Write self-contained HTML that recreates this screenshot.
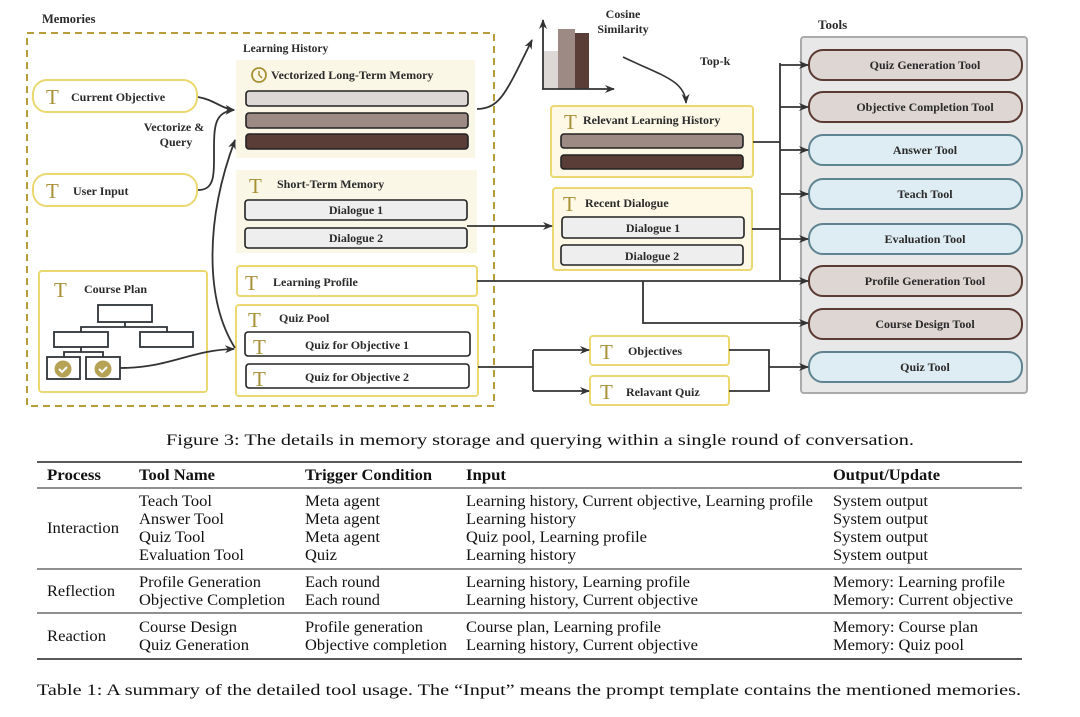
<!DOCTYPE html>
<html><head><meta charset="utf-8"><style>
html,body{margin:0;padding:0;background:#fff;}
svg{display:block;}
.b{font-family:"Liberation Serif",serif;font-weight:bold;font-size:12px;fill:#2a2a2a;}
.t{font-family:"Liberation Serif",serif;font-size:16px;fill:#111;}
.h{font-family:"Liberation Serif",serif;font-weight:bold;font-size:16px;fill:#111;}
.T{font-family:"Liberation Serif",serif;font-size:21px;fill:#a89035;}
</style></head><body>
<svg width="1080" height="717" viewBox="0 0 1080 717" xmlns="http://www.w3.org/2000/svg">
<defs>
<marker id="a" markerWidth="10" markerHeight="8" refX="9" refY="4" orient="auto" markerUnits="userSpaceOnUse"><path d="M0,0 L10,4 L0,8 L3,4z" fill="#333"/></marker>
</defs>
<!-- Memories -->
<text class="b" x="42" y="23" style="font-size:12.5px">Memories</text>
<rect x="27" y="33" width="467" height="373" fill="none" stroke="#b59d3a" stroke-width="2" stroke-dasharray="7,5"/>
<text class="b" x="243" y="52" style="font-size:11.5px">Learning History</text>
<rect x="236" y="60" width="239" height="98" fill="#fbf7e6"/>
<circle cx="259" cy="75" r="7" fill="none" stroke="#a89035" stroke-width="1.8"/>
<path d="M259,71 V75 L262,78" stroke="#a89035" stroke-width="1.5" fill="none"/>
<text class="b" x="271" y="79">Vectorized Long-Term Memory</text>
<rect x="246" y="91" width="222" height="15" rx="3" fill="#ddd8d5" stroke="#222" stroke-width="1.6"/>
<rect x="246" y="113" width="222" height="15" rx="3" fill="#9e8a85" stroke="#222" stroke-width="1.6"/>
<rect x="246" y="134" width="222" height="15" rx="3" fill="#5a3d36" stroke="#222" stroke-width="1.6"/>
<rect x="236" y="170" width="241" height="83" fill="#fbf7e6"/>
<text class="T" x="249" y="193">T</text>
<text class="b" x="277" y="188">Short-Term Memory</text>
<rect x="245" y="200" width="222" height="20" rx="3" fill="#eeeeee" stroke="#222" stroke-width="1.6"/>
<text class="b" x="356" y="214" text-anchor="middle">Dialogue 1</text>
<rect x="245" y="228" width="222" height="20" rx="3" fill="#eeeeee" stroke="#222" stroke-width="1.6"/>
<text class="b" x="356" y="242" text-anchor="middle">Dialogue 2</text>
<rect x="237" y="266" width="240" height="30" rx="3" fill="#fff" stroke="#ecd870" stroke-width="2"/>
<text class="T" x="245" y="290">T</text>
<text class="b" x="273" y="286">Learning Profile</text>
<rect x="236" y="305" width="242" height="91" rx="3" fill="#fff" stroke="#ecd870" stroke-width="2"/>
<text class="T" x="248" y="327">T</text>
<text class="b" x="279" y="322">Quiz Pool</text>
<rect x="245" y="332" width="225" height="24" rx="3" fill="#fff" stroke="#222" stroke-width="1.6"/>
<text class="T" x="253" y="354">T</text>
<text class="b" x="357" y="349" text-anchor="middle">Quiz for Objective 1</text>
<rect x="246" y="364" width="223" height="24" rx="3" fill="#fff" stroke="#222" stroke-width="1.6"/>
<text class="T" x="253" y="386">T</text>
<text class="b" x="357" y="381" text-anchor="middle">Quiz for Objective 2</text>
<rect x="33" y="80" width="164" height="32" rx="14" fill="#fff" stroke="#ecd870" stroke-width="2"/>
<text class="T" x="46" y="104">T</text>
<text class="b" x="71" y="101">Current Objective</text>
<rect x="33" y="174" width="164" height="32" rx="14" fill="#fff" stroke="#ecd870" stroke-width="2"/>
<text class="T" x="46" y="198">T</text>
<text class="b" x="73" y="195">User Input</text>
<text class="b" x="174" y="131" text-anchor="middle">Vectorize &amp;</text>
<text class="b" x="176" y="146" text-anchor="middle">Query</text>
<rect x="39" y="271" width="168" height="121" rx="3" fill="#fff" stroke="#ecd870" stroke-width="2"/>
<text class="T" x="54" y="297">T</text>
<text class="b" x="84" y="293">Course Plan</text>
<g fill="#fff" stroke="#2e3338" stroke-width="1.8">
<rect x="98" y="305" width="54" height="17"/><rect x="54" y="332" width="54" height="15"/><rect x="140" y="332" width="53" height="15"/>
<rect x="47" y="357" width="33" height="22"/><rect x="86" y="357" width="34" height="22"/>
<path d="M125,322 V327 M81,332 V327 H167 V332 M81,347 V352 M64,357 V352 H103 V357" fill="none"/>
</g>
<circle cx="63" cy="369" r="8.5" fill="#b5a254"/><circle cx="103" cy="369" r="8.5" fill="#b5a254"/>
<path d="M59,369 l3,3 l5,-5 M99,369 l3,3 l5,-5" stroke="#fff" stroke-width="2" fill="none"/>
<!-- arrows in memories -->
<g stroke="#333" stroke-width="1.8" fill="none">
<path d="M198,97 C215,100 220,108 234,110" marker-end="url(#a)"/>
<path d="M198,190 C215,190 214,175 214,150 C214,125 215,112 234,110" marker-end="url(#a)"/>
<path d="M120,368 C170,368 190,350 234,349" marker-end="url(#a)"/>
<path d="M235,348 C205,300 205,220 235,140" marker-end="url(#a)"/>
<path d="M477,109 C500,108 505,95 532,40" marker-end="url(#a)"/>
</g>
<!-- chart -->
<rect x="544" y="51" width="14" height="38" fill="#ddd8d5"/>
<rect x="558" y="29" width="17" height="60" fill="#9e8a85"/>
<rect x="575" y="33" width="14" height="56" fill="#5a3d36"/>
<path d="M543,89 V20" stroke="#333" stroke-width="1.8" marker-end="url(#a)"/>
<path d="M542,89 H614" stroke="#333" stroke-width="1.8" marker-end="url(#a)"/>
<text class="b" x="623" y="18" text-anchor="middle">Cosine</text>
<text class="b" x="623" y="33" text-anchor="middle">Similarity</text>
<text class="b" x="700" y="65">Top-k</text>
<path d="M623,57 C660,75 685,80 686,103" stroke="#333" stroke-width="1.6" fill="none" marker-end="url(#a)"/>
<!-- relevant boxes -->
<rect x="551" y="106" width="202" height="71" rx="3" fill="#fdf9e6" stroke="#ecd870" stroke-width="2"/>
<text class="T" x="564" y="129">T</text>
<text class="b" x="583" y="124">Relevant Learning History</text>
<rect x="561" y="134" width="182" height="14" rx="3" fill="#9e8a85" stroke="#222" stroke-width="1.6"/>
<rect x="561" y="155" width="182" height="14" rx="3" fill="#5a3d36" stroke="#222" stroke-width="1.6"/>
<rect x="553" y="188" width="199" height="82" rx="3" fill="#fdf9e6" stroke="#ecd870" stroke-width="2"/>
<text class="T" x="563" y="211">T</text>
<text class="b" x="585" y="207">Recent Dialogue</text>
<rect x="562" y="217" width="182" height="21" rx="3" fill="#eeeeee" stroke="#222" stroke-width="1.6"/>
<text class="b" x="653" y="232" text-anchor="middle">Dialogue 1</text>
<rect x="561" y="245" width="182" height="20" rx="3" fill="#eeeeee" stroke="#222" stroke-width="1.6"/>
<text class="b" x="652" y="260" text-anchor="middle">Dialogue 2</text>
<rect x="590" y="336" width="139" height="29" rx="3" fill="#fff" stroke="#ecd870" stroke-width="2"/>
<text class="T" x="600" y="359">T</text>
<text class="b" x="628" y="355">Objectives</text>
<rect x="590" y="376" width="139" height="29" rx="3" fill="#fff" stroke="#ecd870" stroke-width="2"/>
<text class="T" x="600" y="399">T</text>
<text class="b" x="626" y="396">Relavant Quiz</text>
<!-- tools -->
<text class="b" x="818" y="29" style="font-size:13px">Tools</text>
<rect x="801" y="37" width="226" height="356" rx="3" fill="#e8e8e8" stroke="#aaa" stroke-width="2"/>
<g stroke-width="2">
<rect x="809" y="50" width="213" height="30" rx="14" fill="#ddd6d2" stroke="#5a3a33"/>
<rect x="809" y="92" width="213" height="30" rx="14" fill="#ddd6d2" stroke="#5a3a33"/>
<rect x="809" y="135" width="213" height="30" rx="14" fill="#deedf3" stroke="#5f8390"/>
<rect x="809" y="179" width="213" height="30" rx="14" fill="#deedf3" stroke="#5f8390"/>
<rect x="809" y="224" width="213" height="30" rx="14" fill="#deedf3" stroke="#5f8390"/>
<rect x="809" y="266" width="213" height="30" rx="14" fill="#ddd6d2" stroke="#5a3a33"/>
<rect x="809" y="309" width="213" height="30" rx="14" fill="#ddd6d2" stroke="#5a3a33"/>
<rect x="809" y="352" width="213" height="30" rx="14" fill="#deedf3" stroke="#5f8390"/>
</g>
<g class="b" text-anchor="middle">
<text x="925" y="69">Quiz Generation Tool</text>
<text x="925" y="111">Objective Completion Tool</text>
<text x="925" y="154">Answer Tool</text>
<text x="925" y="198">Teach Tool</text>
<text x="925" y="243">Evaluation Tool</text>
<text x="925" y="285">Profile Generation Tool</text>
<text x="925" y="328">Course Design Tool</text>
<text x="925" y="371">Quiz Tool</text>
</g>
<!-- connectors -->
<g stroke="#333" stroke-width="1.8" fill="none">
<path d="M753,142 H780 M752,229 H780 M780,63 V280"/>
<path d="M780,65 H808" marker-end="url(#a)"/>
<path d="M780,107 H808" marker-end="url(#a)"/>
<path d="M780,150 H808" marker-end="url(#a)"/>
<path d="M780,194 H808" marker-end="url(#a)"/>
<path d="M780,239 H808" marker-end="url(#a)"/>
<path d="M477,281 H808" marker-end="url(#a)"/>
<path d="M643,281 V323 H808" marker-end="url(#a)"/>
<path d="M467,226 H552" marker-end="url(#a)"/>
<path d="M478,367 H533 M533,350 V391"/>
<path d="M533,350 H589" marker-end="url(#a)"/>
<path d="M533,391 H589" marker-end="url(#a)"/>
<path d="M729,350 H769 V391 H729 M769,367 H808" marker-end="url(#a)"/>
</g>
<!-- figure caption -->
<text class="t" x="540" y="445" text-anchor="middle" textLength="748" lengthAdjust="spacingAndGlyphs">Figure 3: The details in memory storage and querying within a single round of conversation.</text>
<!-- table -->
<g stroke="#222">
<line x1="37" y1="462" x2="1022" y2="462" stroke-width="1.5"/>
<line x1="37" y1="488" x2="1022" y2="488" stroke-width="1"/>
<line x1="37" y1="569" x2="1022" y2="569" stroke-width="1"/>
<line x1="37" y1="613" x2="1022" y2="613" stroke-width="1"/>
<line x1="37" y1="659" x2="1022" y2="659" stroke-width="1.5"/>
</g>
<g class="h">
<text x="47" y="480" textLength="54" lengthAdjust="spacingAndGlyphs">Process</text>
<text x="139" y="480" textLength="76" lengthAdjust="spacingAndGlyphs">Tool Name</text>
<text x="305" y="480" textLength="127" lengthAdjust="spacingAndGlyphs">Trigger Condition</text>
<text x="466" y="480" textLength="40" lengthAdjust="spacingAndGlyphs">Input</text>
<text x="833" y="480" textLength="107" lengthAdjust="spacingAndGlyphs">Output/Update</text>
</g>
<g class="t">
<text x="47" y="533" textLength="72" lengthAdjust="spacingAndGlyphs">Interaction</text>
<text x="139" y="506" textLength="73" lengthAdjust="spacingAndGlyphs">Teach Tool</text>
<text x="139" y="524" textLength="85" lengthAdjust="spacingAndGlyphs">Answer Tool</text>
<text x="139" y="542" textLength="66" lengthAdjust="spacingAndGlyphs">Quiz Tool</text>
<text x="139" y="560" textLength="105" lengthAdjust="spacingAndGlyphs">Evaluation Tool</text>
<text x="305" y="506" textLength="75" lengthAdjust="spacingAndGlyphs">Meta agent</text>
<text x="305" y="524" textLength="75" lengthAdjust="spacingAndGlyphs">Meta agent</text>
<text x="305" y="542" textLength="75" lengthAdjust="spacingAndGlyphs">Meta agent</text>
<text x="305" y="560" textLength="32" lengthAdjust="spacingAndGlyphs">Quiz</text>
<text x="466" y="506" textLength="347" lengthAdjust="spacingAndGlyphs">Learning history, Current objective, Learning profile</text>
<text x="466" y="524" textLength="110" lengthAdjust="spacingAndGlyphs">Learning history</text>
<text x="466" y="542" textLength="181" lengthAdjust="spacingAndGlyphs">Quiz pool, Learning profile</text>
<text x="466" y="560" textLength="110" lengthAdjust="spacingAndGlyphs">Learning history</text>
<text x="833" y="506" textLength="95" lengthAdjust="spacingAndGlyphs">System output</text>
<text x="833" y="524" textLength="95" lengthAdjust="spacingAndGlyphs">System output</text>
<text x="833" y="542" textLength="95" lengthAdjust="spacingAndGlyphs">System output</text>
<text x="833" y="560" textLength="95" lengthAdjust="spacingAndGlyphs">System output</text>
<text x="47" y="596" textLength="68" lengthAdjust="spacingAndGlyphs">Reflection</text>
<text x="139" y="587" textLength="122" lengthAdjust="spacingAndGlyphs">Profile Generation</text>
<text x="139" y="605" textLength="146" lengthAdjust="spacingAndGlyphs">Objective Completion</text>
<text x="305" y="587" textLength="75" lengthAdjust="spacingAndGlyphs">Each round</text>
<text x="305" y="605" textLength="75" lengthAdjust="spacingAndGlyphs">Each round</text>
<text x="466" y="587" textLength="224" lengthAdjust="spacingAndGlyphs">Learning history, Learning profile</text>
<text x="466" y="605" textLength="232" lengthAdjust="spacingAndGlyphs">Learning history, Current objective</text>
<text x="833" y="587" textLength="172" lengthAdjust="spacingAndGlyphs">Memory: Learning profile</text>
<text x="833" y="605" textLength="180" lengthAdjust="spacingAndGlyphs">Memory: Current objective</text>
<text x="47" y="641" textLength="59" lengthAdjust="spacingAndGlyphs">Reaction</text>
<text x="139" y="632" textLength="98" lengthAdjust="spacingAndGlyphs">Course Design</text>
<text x="139" y="650" textLength="110" lengthAdjust="spacingAndGlyphs">Quiz Generation</text>
<text x="305" y="632" textLength="118" lengthAdjust="spacingAndGlyphs">Profile generation</text>
<text x="305" y="650" textLength="142" lengthAdjust="spacingAndGlyphs">Objective completion</text>
<text x="466" y="632" textLength="195" lengthAdjust="spacingAndGlyphs">Course plan, Learning profile</text>
<text x="466" y="650" textLength="232" lengthAdjust="spacingAndGlyphs">Learning history, Current objective</text>
<text x="833" y="632" textLength="145" lengthAdjust="spacingAndGlyphs">Memory: Course plan</text>
<text x="833" y="650" textLength="131" lengthAdjust="spacingAndGlyphs">Memory: Quiz pool</text>
</g>
<text class="t" x="37" y="695" textLength="984" lengthAdjust="spacingAndGlyphs">Table 1: A summary of the detailed tool usage. The “Input” means the prompt template contains the mentioned memories.</text>
</svg>
</body></html>
